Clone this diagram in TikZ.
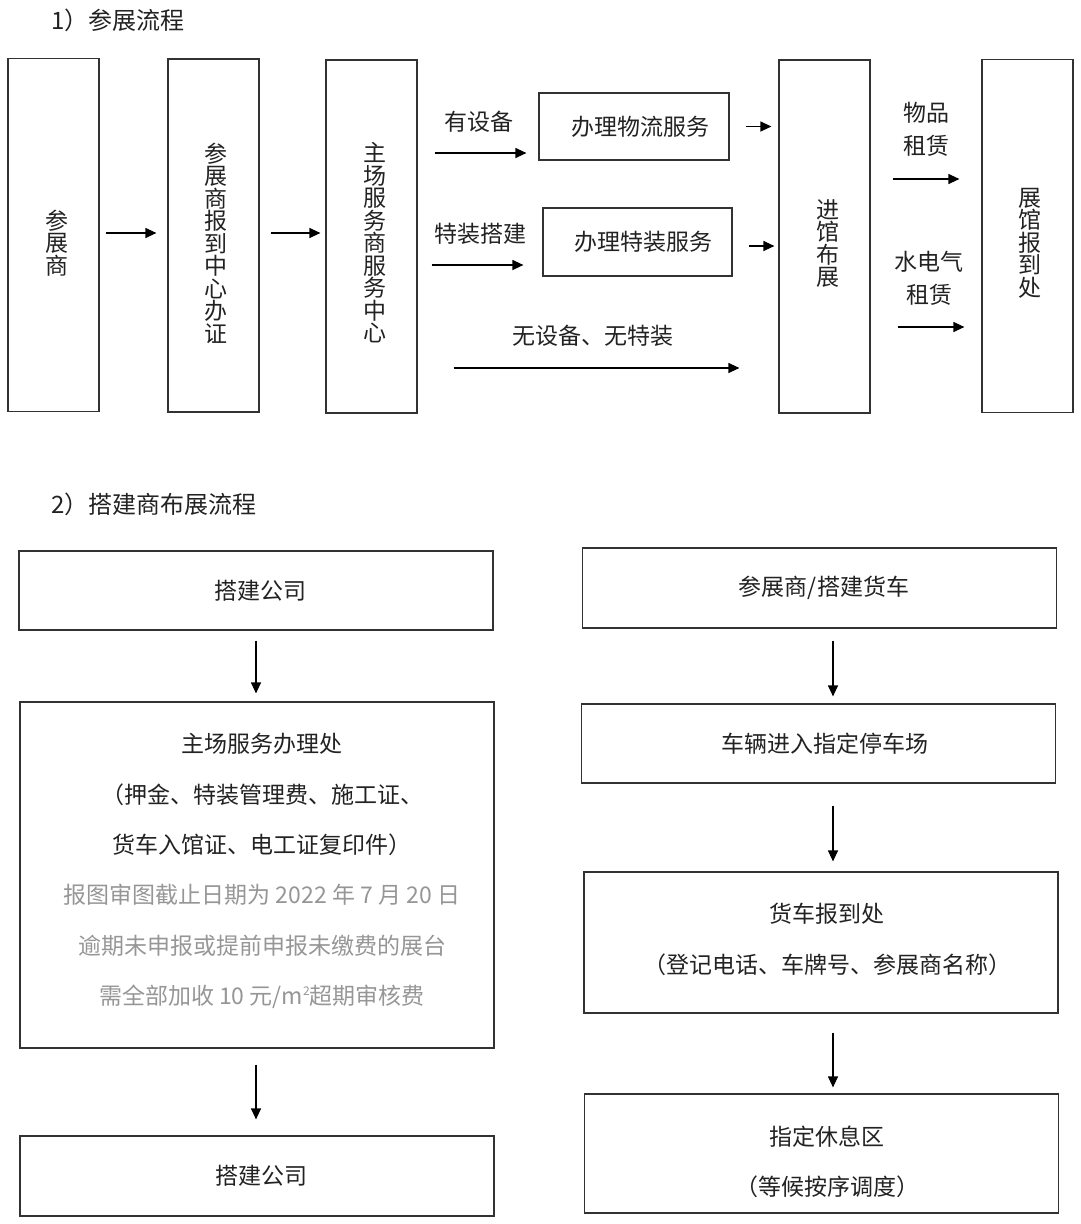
\documentclass[tikz,border=0pt]{standalone}
\usepackage{fontspec}
\setmainfont{Noto Sans CJK SC}
\usetikzlibrary{arrows.meta,positioning}
\definecolor{lineGray}{RGB}{50,50,50}
\definecolor{textBlack}{RGB}{34,34,34}
\definecolor{noteGray}{RGB}{150,150,150}
\tikzset{
  box/.style={draw=lineGray, line width=1.2pt, inner sep=0pt, text=textBlack,
    font=\fontsize{23}{23}\selectfont},
  tallbox/.style={box, minimum width=91pt, minimum height=353pt},
  widebox/.style={box, minimum width=474pt},
  vtext/.style={inner sep=0pt, align=center, text=textBlack,
    font=\fontsize{23}{22.5}\selectfont},
  lbl/.style={inner sep=0pt, align=center, text=textBlack,
    font=\fontsize{23}{33}\selectfont},
  title/.style={inner sep=0pt, anchor=west, text=textBlack,
    font=\fontsize{24}{24}\selectfont},
  lines/.style={inner sep=0pt, align=center, text=textBlack,
    font=\fontsize{23}{50.5}\selectfont},
  arr/.style={draw=black, line width=1.2pt, -{Triangle[length=11pt,width=10pt]}},
}
\newcommand{\sqm}{m\raisebox{0.42em}{\fontsize{12}{12}\selectfont 2}}

\begin{document}
\begin{tikzpicture}[x=1pt, y=-1pt]
    \useasboundingbox (0,0) rectangle (1080,1224);
    % 1) exhibitor flow
    \node[title] (title1) at (51,20) {1）参展流程};
    \node[tallbox] (exh) at (53.5,235) {};
    \node[tallbox] (reg) at (213.5,235.5) {};
    \node[tallbox] (host) at (371.5,236.5) {};
    \node[tallbox] (enter) at (824.5,236.5) {};
    \node[tallbox] (hall) at (1027.5,236) {};
    \node[vtext] (exh-t) at (57,243) {参\\展\\商};
    \node[vtext] (reg-t) at (216,243) {参\\展\\商\\报\\到\\中\\心\\办\\证};
    \node[vtext] (host-t) at (375,243) {主\\场\\服\\务\\商\\服\\务\\中\\心};
    \node[vtext] (enter-t) at (828,243.5) {进\\馆\\布\\展};
    \node[vtext] (hall-t) at (1030,243) {展\\馆\\报\\到\\处};
    \node[box, minimum width=190pt, minimum height=67pt] (logi) at (634,126.5) {\hspace{12pt}办理物流服务};
    \node[box, minimum width=189pt, minimum height=68pt] (spec) at (637.5,242) {\hspace{12pt}办理特装服务};
    \node[lbl] (l-eq) at (479,122) {有设备};
    \node[lbl] (l-sp) at (480,234) {特装搭建};
    \node[lbl] (l-no) at (593,336) {无设备、无特装};
    \node[lbl] (l-rent) at (926,129.5) {物品\\租赁};
    \node[lbl] (l-util) at (929,278.5) {水电气\\租赁};
    \coordinate (rowMid) at (0,233);
    \coordinate (rowEq) at (0,153);
    \coordinate (rowSp) at (0,265);
    \coordinate (rowNo) at (0,368);
    \coordinate (rowRent) at (0,179);
    \coordinate (rowUtil) at (0,327);
    \draw[arr, shorten <=6pt, shorten >=11pt] (exh.east |- rowMid) -- (reg.west |- rowMid);
    \draw[arr, shorten <=11pt, shorten >=5pt] (reg.east |- rowMid) -- (host.west |- rowMid);
    \draw[arr, shorten <=17pt, shorten >=12pt] (host.east |- rowEq) -- (logi.west |- rowEq);
    \draw[arr, shorten <=14pt, shorten >=19pt] (host.east |- rowSp) -- (spec.west |- rowSp);
    \draw[arr, shorten <=36pt, shorten >=39pt] (host.east |- rowNo) -- (enter.west |- rowNo);
    \draw[arr, shorten <=16pt, shorten >=7pt] (logi.east) -- (logi.east -| enter.west);
    \draw[arr, shorten <=16pt, shorten >=4pt] ([yshift=-4pt]spec.east) -- ([yshift=-4pt]spec.east -| enter.west);
    \draw[arr, shorten <=22pt, shorten >=22pt] (enter.east |- rowRent) -- (hall.west |- rowRent);
    \draw[arr, shorten <=27pt, shorten >=17pt] (enter.east |- rowUtil) -- (hall.west |- rowUtil);

    % 2) builder flow
    \node[title] (title2) at (51,504) {2）搭建商布展流程};
    \node[widebox, minimum height=79pt] (firm) at (256,590.5) {\hspace{8pt}搭建公司};
    \node[widebox, minimum height=346pt] (desk) at (257,875) {};
    \node[lines] (desk-t) at (262,794.5) {主场服务办理处\\（押金、特装管理费、施工证、\\货车入馆证、电工证复印件）};
    \node[lines, text=noteGray] (desk-n) at (262,946.5)
      {报图审图截止日期为 2022 年 7 月 20 日\\逾期未申报或提前申报未缴费的展台\\需全部加收 10 元/\sqm 超期审核费};
    \node[widebox, minimum height=80pt] (firm2) at (257,1176) {\hspace{8pt}搭建公司};
    \node[widebox, minimum height=80pt] (truck) at (819.5,588) {\hspace{9pt}参展商/搭建货车};
    \node[widebox, minimum height=79pt] (park) at (818.5,743.5) {\hspace{12pt}车辆进入指定停车场};
    \node[widebox, minimum height=141pt] (check) at (821,942.5) {};
    \node[lines] (check-t) at (827,939.5) {货车报到处\\（登记电话、车牌号、参展商名称）};
    \node[widebox, minimum height=119pt] (rest) at (821.5,1153.5) {};
    \node[lines] (rest-t) at (827,1162) {指定休息区\\（等候按序调度）};
    \coordinate (lcol) at (256,0);
    \coordinate (rcol) at (833,0);
    \draw[arr, shorten <=10pt, shorten >=8pt] (firm.south -| lcol) -- (desk.north -| lcol);
    \draw[arr, shorten <=16pt, shorten >=16pt] (desk.south -| lcol) -- (firm2.north -| lcol);
    \foreach \a/\b/\s/\e in {truck/park/12/7, park/check/22/10, check/rest/19/6} {
      \draw[arr, shorten <=\s pt, shorten >=\e pt] (\a.south -| rcol) -- (\b.north -| rcol);
    }
\end{tikzpicture}
\end{document}
